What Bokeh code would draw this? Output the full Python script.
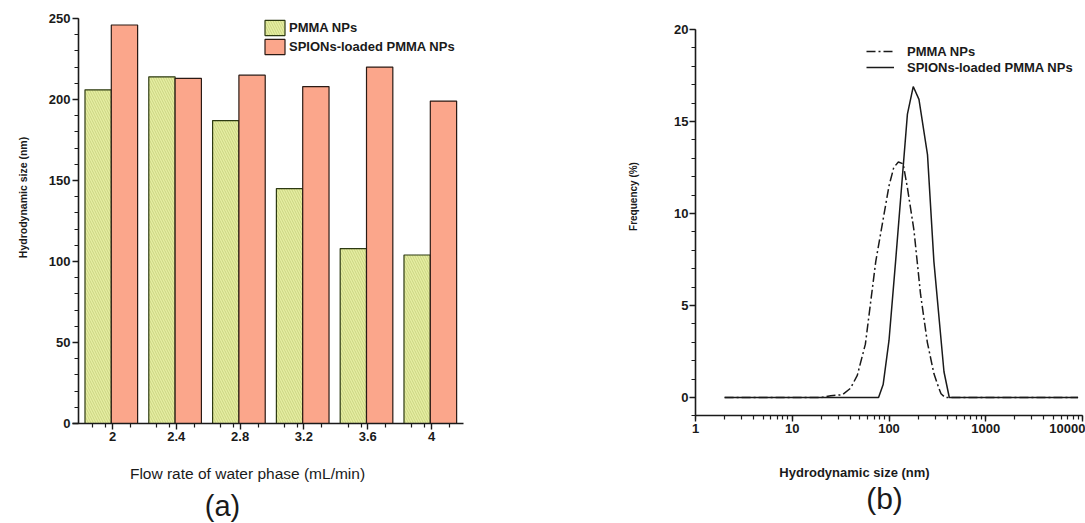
import math
from bokeh.plotting import figure
from bokeh.layouts import row
from bokeh.models import (ColumnDataSource, FixedTicker, SingleIntervalTicker, Range1d,
                          Legend, LegendItem, Label, LogTicker, LogTickFormatter)
from bokeh.transform import dodge
from bokeh.embed import file_html
from bokeh.resources import INLINE

# ---------------- data ----------------
flow = [2, 2.4, 2.8, 3.2, 3.6, 4]
flow_labels = ["2", "2.4", "2.8", "3.2", "3.6", "4"]
pmma_size = [206, 214, 187, 145, 108, 104]
spion_size = [246, 213, 215, 208, 220, 199]

pmma_dx = [2, 20, 25, 33, 40, 47, 57, 73, 100, 112, 125, 140, 155, 181, 212, 249, 291, 328, 345, 380, 9000]
pmma_freq = [0, 0, 0.1, 0.15, 0.5, 1.2, 2.9, 7.4, 11.5, 12.5, 12.8, 12.7, 11.4, 9.1, 5.6, 3.0, 1.3, 0.5, 0.2, 0, 0]
spion_dx = [2, 78, 87, 100, 117, 155, 178, 204, 250, 291, 370, 420, 9000]
spion_freq = [0, 0, 0.7, 3.1, 7.4, 15.4, 16.9, 16.2, 13.2, 7.4, 1.4, 0, 0]

FONT = "Liberation Sans"
INK = "#1a1a1a"


def style_axes(p, tick_size="13px"):
    for ax in (p.xaxis[0], p.yaxis[0]):
        ax.axis_line_color = INK
        ax.axis_line_width = 1.6
        ax.major_tick_line_color = INK
        ax.minor_tick_line_color = INK
        ax.major_tick_line_width = 1.4
        ax.minor_tick_line_width = 1.2
        ax.major_tick_in = 0
        ax.major_tick_out = 6
        ax.minor_tick_in = 0
        ax.minor_tick_out = 4
        ax.major_label_text_font = FONT
        ax.major_label_text_font_size = tick_size
        ax.major_label_text_font_style = "bold"
        ax.major_label_text_color = INK
    p.xgrid.visible = False
    p.ygrid.visible = False
    p.outline_line_color = None


def label(x, y, text, size, style="normal", angle=0.0):
    return Label(x=x, y=y, x_units="screen", y_units="screen", text=text, angle=angle,
                 text_font=FONT, text_font_size=size, text_font_style=style, text_color=INK,
                 text_align="center", text_baseline="middle")


# ---------------- panel (a) ----------------
src = ColumnDataSource(dict(flow=flow, pmma=pmma_size, spion=spion_size))

# frame covers the whole figure; axes are pinned inside it
p1 = figure(width=548, height=523, output_backend="svg", toolbar_location=None, title=None,
            x_range=Range1d(1.2978, 4.7335), y_range=Range1d(-61.73, 261.11),
            min_border=0)
style_axes(p1)

r_pmma = p1.vbar(x=dodge("flow", -0.09, range=p1.x_range), top="pmma", width=0.165, source=src,
                 fill_color="#e6eea2", line_color="#2d3a12", line_width=1.2,
                 hatch_pattern="left_diagonal_line", hatch_color="#b0ba62",
                 hatch_scale=5, hatch_weight=0.7, hatch_alpha=0.7)
r_spion = p1.vbar(x=dodge("flow", 0.075, range=p1.x_range), top="spion", width=0.165, source=src,
                  fill_color="#fba68b", line_color="#2a1a14", line_width=1.2)

minor_x = []
for f in flow:
    minor_x += [f - 0.123, f - 0.041, f + 0.113]
xa = p1.xaxis[0]
xa.fixed_location = 0
xa.bounds = (1.75, 4.2)
xa.ticker = FixedTicker(ticks=flow, minor_ticks=minor_x)
xa.major_label_overrides = {f: lab for f, lab in zip(flow, flow_labels)}
xa.major_label_standoff = 3
ya = p1.yaxis[0]
ya.fixed_location = 1.787
ya.bounds = (0, 250)
ya.ticker = SingleIntervalTicker(interval=50, num_minor_ticks=5)
ya.major_label_standoff = 2

leg1 = Legend(items=[LegendItem(label="PMMA NPs", renderers=[r_pmma]),
                     LegendItem(label="SPIONs-loaded PMMA NPs", renderers=[r_spion])],
              location=(262, 467), padding=0, margin=0, spacing=-2,
              glyph_width=25, glyph_height=19, label_height=17, label_standoff=2,
              label_text_font=FONT, label_text_font_size="13px", label_text_font_style="bold",
              label_text_color=INK, background_fill_alpha=0, border_line_alpha=0)
p1.add_layout(leg1)

p1.add_layout(label(22, 326, "Hydrodynamic size (nm)", "10.5px", "bold", math.pi / 2))
p1.add_layout(label(247, 50, "Flow rate of water phase (mL/min)", "15.5px"))
p1.add_layout(label(222, 18, "(a)", "29px"))

# ---------------- panel (b) ----------------
p2 = figure(width=537, height=523, output_backend="svg", toolbar_location=None, title=None,
            x_axis_type="log", x_range=Range1d(0.03024, 10740), y_range=Range1d(-6.848, 21.576),
            min_border=0)
style_axes(p2)
xb = p2.xaxis[0]
xb.fixed_location = -1
xb.bounds = (1, 10000)
xb.ticker = LogTicker(num_minor_ticks=10)
xb.formatter = LogTickFormatter(min_exponent=5)
xb.major_label_standoff = 2
yb = p2.yaxis[0]
yb.fixed_location = 1
yb.bounds = (-1, 20)
yb.ticker = SingleIntervalTicker(interval=5, num_minor_ticks=5)
yb.major_label_standoff = 1

r_l1 = p2.line(pmma_dx, pmma_freq, line_color=INK, line_width=1.5, line_dash="9 3 2 3")
r_l2 = p2.line(spion_dx, spion_freq, line_color=INK, line_width=1.5)

leg2 = Legend(items=[LegendItem(label="PMMA NPs", renderers=[r_l1]),
                     LegendItem(label="SPIONs-loaded PMMA NPs", renderers=[r_l2])],
              location=(318, 448), padding=0, margin=0, spacing=0,
              glyph_width=28, glyph_height=16, label_height=16, label_standoff=13,
              label_text_font=FONT, label_text_font_size="13px", label_text_font_style="bold",
              label_text_color=INK, background_fill_alpha=0, border_line_alpha=0)
p2.add_layout(leg2)

p2.add_layout(label(85, 327, "Frequency (%)", "10px", "bold", math.pi / 2))
p2.add_layout(label(306, 51, "Hydrodynamic size (nm)", "13px", "bold"))
p2.add_layout(label(336, 25, "(b)", "30px"))

layout = row(p1, p2, spacing=0)
open("out.html", "w").write(file_html(layout, INLINE))
